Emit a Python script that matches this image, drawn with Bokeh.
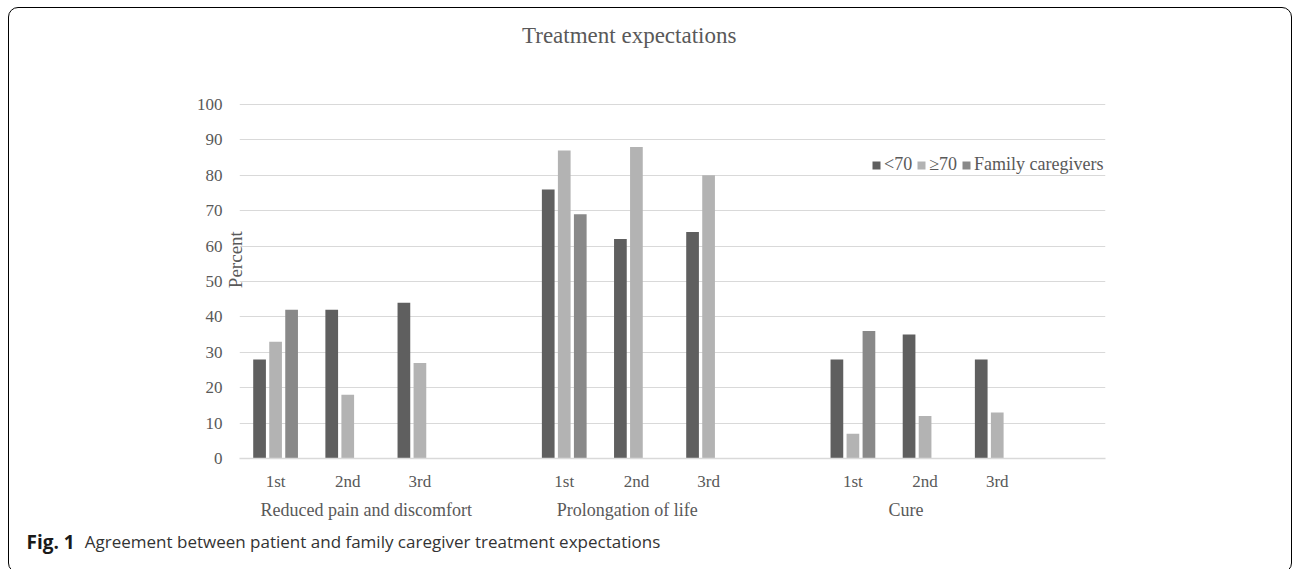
from bokeh.plotting import figure
from bokeh.layouts import column
from bokeh.models import (Range1d, FixedTicker, LinearAxis, Label, ColumnDataSource,
                          InlineStyleSheet)
from bokeh.transform import dodge
from bokeh.embed import file_html
from bokeh.resources import INLINE

# ---------------- data ----------------
title_text = "Treatment expectations"
groups = ["Reduced pain and discomfort", "Prolongation of life", "Cure"]
ranks = ["1st", "2nd", "3rd"]
series_names = ["<70", "\u226570", "Family caregivers"]
under70 = [28, 42, 44, 76, 62, 64, 28, 35, 28]
over70 = [33, 18, 27, 87, 88, 80, 7, 12, 13]
family = [42, None, None, 69, None, None, 36, None, None]
y_ticks = [0, 10, 20, 30, 40, 50, 60, 70, 80, 90, 100]
y_label = "Percent"
caption_bold = "Fig. 1"
caption_text = "Agreement between patient and family caregiver treatment expectations"

# ---------------- layout / style ----------------
W = 1292
TOP_H, MAIN_H, CAP_H = 60, 470, 39
SLOTS_PER_GROUP = 4           # 3 ranks + one empty slot per group
group_label_pos = [1.757, 5.374, 9.235]   # where the group names sit (slot units)
colors = ["#5f5f5f", "#b3b3b3", "#898989"]
offsets = [-0.222, 0.0, 0.222]
bar_w = 0.176
SERIF = "Liberation Serif"
TXT = "#595959"
YLABEL_PAD = "\u00a0" * 9     # lifts the rotated "Percent" above the plot's middle


def blank_fig(h):
    f = figure(width=W, height=h, output_backend="svg", toolbar_location=None,
               x_range=Range1d(0, W), y_range=Range1d(0, h),
               min_border=0, x_axis_location=None, y_axis_location=None,
               frame_align=False)
    f.outline_line_color = None
    f.xgrid.visible = False
    f.ygrid.visible = False
    f.background_fill_color = "white"
    f.border_fill_color = "white"
    return f


# title strip
top = blank_fig(TOP_H)
top.add_layout(Label(x=628.7, y=TOP_H - 35, text=title_text, text_align="center",
                     text_baseline="alphabetic", text_font=SERIF, text_font_size="23px",
                     text_color=TXT))

# main chart
centers = [g * SLOTS_PER_GROUP + r + 0.5 for g in range(len(groups)) for r in range(len(ranks))]

p = figure(width=W, height=MAIN_H, output_backend="svg", toolbar_location=None,
           x_range=Range1d(0, len(groups) * SLOTS_PER_GROUP), y_range=Range1d(0, 100.3),
           min_border_left=239, min_border_right=W - 1105, min_border_top=103 - TOP_H,
           min_border_bottom=TOP_H + MAIN_H - 458, x_axis_location=None,
           frame_align=False)
p.outline_line_color = None
p.background_fill_color = "white"
p.border_fill_color = "white"
p.xgrid.visible = False

yt = FixedTicker(ticks=y_ticks, minor_ticks=[])
p.yaxis.ticker = yt
p.ygrid.ticker = yt
p.ygrid.grid_line_color = "#d9d9d9"
p.ygrid.grid_line_width = 1
p.yaxis.axis_line_color = None
p.yaxis.major_tick_line_color = None
p.yaxis.minor_tick_line_color = None
p.yaxis.major_label_standoff = 11
p.yaxis.major_label_text_font = SERIF
p.yaxis.major_label_text_font_size = "17px"
p.yaxis.major_label_text_color = TXT

# axis that only carries the "Percent" title, pulled in next to the plot area
ylab_axis = LinearAxis(ticker=FixedTicker(ticks=[], minor_ticks=[]),
                       axis_label=YLABEL_PAD + y_label, axis_label_standoff=-52,
                       axis_label_text_font=SERIF, axis_label_text_font_size="19px",
                       axis_label_text_font_style="normal", axis_label_text_color=TXT,
                       axis_line_color=None, major_tick_line_color=None,
                       minor_tick_line_color=None, major_label_text_alpha=0)
p.add_layout(ylab_axis, "left")


def clean(vals):
    return [float("nan") if v is None else v for v in vals]


for name, vals, col, off in zip(series_names, [under70, over70, family], colors, offsets):
    src = ColumnDataSource(dict(x=centers, top=clean(vals)))
    p.vbar(x=dodge("x", off), top="top", bottom=0, width=bar_w, source=src,
           fill_color=col, line_color=None, legend_label=name)

# rank axis
ax1 = LinearAxis(ticker=FixedTicker(ticks=centers, minor_ticks=[]),
                 major_label_overrides={c: ranks[i % len(ranks)] for i, c in enumerate(centers)},
                 axis_line_color="#d9d9d9", axis_line_width=1.5,
                 major_tick_line_color=None, minor_tick_line_color=None,
                 major_label_standoff=7, major_label_text_font=SERIF,
                 major_label_text_font_size="17px", major_label_text_color=TXT)
p.add_layout(ax1, "below")

# group axis
ax2 = LinearAxis(ticker=FixedTicker(ticks=group_label_pos, minor_ticks=[]),
                 major_label_overrides={pos: g for pos, g in zip(group_label_pos, groups)},
                 axis_line_color=None, major_tick_line_color=None, minor_tick_line_color=None,
                 major_label_standoff=0, major_label_text_font=SERIF,
                 major_label_text_font_size="18px", major_label_text_color=TXT)
p.add_layout(ax2, "below")

# legend
lg = p.legend[0]
lg.orientation = "horizontal"
lg.location = (632, 283)
lg.padding = 0
lg.margin = 0
lg.spacing = 4
lg.label_standoff = 3
lg.glyph_width = 10
lg.glyph_height = 10
lg.label_text_font = SERIF
lg.label_text_font_size = "18px"
lg.label_text_color = TXT
lg.background_fill_alpha = 0
lg.border_line_alpha = 0

# caption strip
cap = blank_fig(CAP_H)
base = TOP_H + MAIN_H + CAP_H - 541
cap.add_layout(Label(x=26, y=base, text=caption_bold, text_align="left",
                     text_baseline="alphabetic", text_font="Open Sans", text_font_style="bold",
                     text_font_size="19px", text_color="#1a1a1a"))
cap.add_layout(Label(x=84.3, y=base, text=caption_text, text_align="left",
                     text_baseline="alphabetic", text_font="Open Sans",
                     text_font_size="17px", text_color="#333333"))

frame_css = InlineStyleSheet(css="""
:host { position: relative; overflow: hidden; }
:host::after {
  content: ""; position: absolute; box-sizing: border-box;
  left: 8px; top: 7px; width: 1284px; height: 566px;
  border: 1.5px solid #000; border-radius: 10px; pointer-events: none;
}
""")

layout = column(top, p, cap, spacing=0, stylesheets=[frame_css])

open("out.html", "w").write(file_html(layout, INLINE))
